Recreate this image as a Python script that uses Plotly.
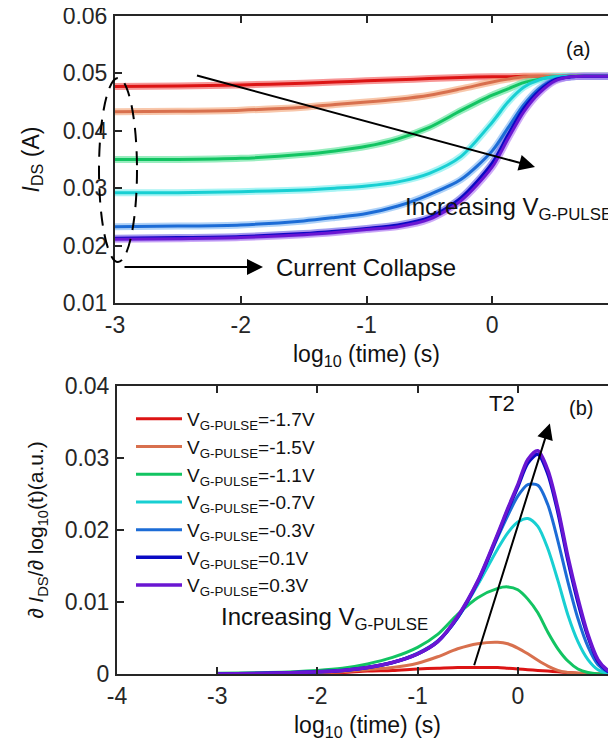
import plotly.graph_objects as go

# ---------------- data ----------------
labels = ["-1.7V", "-1.5V", "-1.1V", "-0.7V", "-0.3V", "0.1V", "0.3V"]
line_colors = ["#dc1414", "#d8704e", "#12c462", "#18cfd2", "#1c6cd6", "#0a0ac4", "#6a16d2"]
halo_colors = ["#f46a6a", "#f6b088", "#6ee6a4", "#86f0f0", "#8ec0f6", "#7a7ae8", "#b886f4"]

# (a) transient drain current, log10(time) grid
t_top = [-3, -2.5, -2, -1.5, -1.25, -1, -0.75, -0.5, -0.25, 0, 0.125, 0.25, 0.375, 0.5, 0.625, 0.75, 1.0]
ids_m17 = [0.0477, 0.0478, 0.0480, 0.0483, 0.0485, 0.0487, 0.0489, 0.0491, 0.0493, 0.0494, 0.0494, 0.0495, 0.0495, 0.0495, 0.0495, 0.0495, 0.0495]
ids_m15 = [0.0433, 0.0434, 0.0436, 0.0441, 0.0446, 0.0450, 0.0455, 0.0462, 0.0473, 0.0485, 0.0490, 0.0494, 0.0495, 0.0495, 0.0495, 0.0495, 0.0495]
ids_m11 = [0.0350, 0.0350, 0.0352, 0.0359, 0.0365, 0.0373, 0.0386, 0.0406, 0.0435, 0.0462, 0.0473, 0.0484, 0.0490, 0.0494, 0.0495, 0.0495, 0.0495]
ids_m07 = [0.0292, 0.0292, 0.0294, 0.0297, 0.0300, 0.0304, 0.0311, 0.0326, 0.0355, 0.0415, 0.0450, 0.0476, 0.0489, 0.0494, 0.0495, 0.0495, 0.0495]
ids_m03 = [0.0233, 0.0234, 0.0236, 0.0243, 0.0249, 0.0256, 0.0269, 0.0289, 0.0315, 0.0365, 0.0405, 0.0445, 0.0474, 0.0490, 0.0494, 0.0495, 0.0495]
ids_p01 = [0.0213, 0.0214, 0.0216, 0.0221, 0.0225, 0.0230, 0.0236, 0.0249, 0.0283, 0.0344, 0.0393, 0.0439, 0.0470, 0.0489, 0.0494, 0.0495, 0.0495]
ids_p03 = [0.0211, 0.0212, 0.0214, 0.0219, 0.0223, 0.0228, 0.0233, 0.0246, 0.0278, 0.0337, 0.0386, 0.0433, 0.0466, 0.0487, 0.0494, 0.0495, 0.0495]

# (b) derivative dIDS/dlog10(t)
t_bot = [-3, -2.5, -2, -1.75, -1.5, -1.25, -1, -0.8, -0.6, -0.4, -0.2, -0.1, 0, 0.1, 0.2, 0.3, 0.4, 0.5, 0.6, 0.7, 0.8, 0.9, 1.0]
d_m17 = [0, 0, 0.0001, 0.0002, 0.0004, 0.0005, 0.0007, 0.0008, 0.0009, 0.0009, 0.0009, 0.0008, 0.0007, 0.0006, 0.0005, 0.0004, 0.0003, 0.0002, 0.0001, 0.0001, 0, 0, 0]
d_m15 = [0, 0.0001, 0.0002, 0.0003, 0.0006, 0.0009, 0.0015, 0.0024, 0.0035, 0.0042, 0.0044, 0.0042, 0.0036, 0.0028, 0.0019, 0.0011, 0.0005, 0.0002, 0.0001, 0, 0, 0, 0]
d_m11 = [0.0001, 0.0002, 0.0005, 0.0008, 0.0014, 0.0023, 0.0037, 0.0055, 0.0083, 0.0106, 0.0119, 0.0121, 0.0117, 0.0104, 0.0085, 0.0058, 0.0035, 0.0018, 0.0007, 0.0002, 0, 0, 0]
d_m07 = [0, 0.0001, 0.0003, 0.0005, 0.0009, 0.0016, 0.0029, 0.0046, 0.0078, 0.0124, 0.0174, 0.0196, 0.0211, 0.0216, 0.0205, 0.0174, 0.0130, 0.0082, 0.0045, 0.0020, 0.0006, 0.0001, 0]
d_m03 = [0, 0.0001, 0.0003, 0.0005, 0.0009, 0.0016, 0.0028, 0.0045, 0.0078, 0.0127, 0.0190, 0.0220, 0.0247, 0.0263, 0.0262, 0.0235, 0.0185, 0.0128, 0.0077, 0.0038, 0.0013, 0.0003, 0]
d_p01 = [0, 0.0001, 0.0003, 0.0005, 0.0009, 0.0016, 0.0028, 0.0045, 0.0079, 0.0128, 0.0193, 0.0228, 0.0260, 0.0293, 0.0305, 0.0278, 0.0225, 0.0158, 0.0100, 0.0052, 0.0018, 0.0004, 0]
d_p03 = [0, 0.0001, 0.0003, 0.0005, 0.0009, 0.0016, 0.0028, 0.0045, 0.0080, 0.0129, 0.0195, 0.0230, 0.0263, 0.0298, 0.0310, 0.0283, 0.0230, 0.0163, 0.0105, 0.0055, 0.0020, 0.0005, 0.0001]

ids_series = [ids_m17, ids_m15, ids_m11, ids_m07, ids_m03, ids_p01, ids_p03]
d_series = [d_m17, d_m15, d_m11, d_m07, d_m03, d_p01, d_p03]

x_ticks_top = [-3, -2, -1, 0, 1]
x_text_top = ["-3", "-2", "-1", "0", "1"]
y_ticks_top = [0.01, 0.02, 0.03, 0.04, 0.05, 0.06]
y_text_top = ["0.01", "0.02", "0.03", "0.04", "0.05", "0.06"]
x_ticks_bot = [-4, -3, -2, -1, 0, 1]
x_text_bot = ["-4", "-3", "-2", "-1", "0", "1"]
y_ticks_bot = [0, 0.01, 0.02, 0.03, 0.04]
y_text_bot = ["0", "0.01", "0.02", "0.03", "0.04"]

# ---------------- figure ----------------
W, H = 616, 745
OFF = 8  # page body margin offset


def xp(px):
    return (px - OFF) / W


def yp(py):
    return 1 - (py - OFF) / H


FONT = "'Liberation Sans', Arial, Helvetica, sans-serif"
fig = go.Figure()

# top panel: wide light band (raw data) + darker fitted line
for ys, lc, hc in zip(ids_series, line_colors, halo_colors):
    fig.add_trace(go.Scatter(x=t_top, y=ys, mode="lines", xaxis="x", yaxis="y",
                             line=dict(color=hc, width=7, shape="spline", smoothing=0.8),
                             opacity=0.7, showlegend=False, hoverinfo="skip"))
for ys, lc, lab in zip(ids_series, line_colors, labels):
    fig.add_trace(go.Scatter(x=t_top, y=ys, mode="lines", xaxis="x", yaxis="y",
                             line=dict(color=lc, width=3, shape="spline", smoothing=0.8),
                             showlegend=False, legendgroup=lab))

# bottom panel
for ys, lc, lab in zip(d_series, line_colors, labels):
    w = 3.5 if lab in ("0.1V", "0.3V") else 3
    fig.add_trace(go.Scatter(x=t_bot, y=ys, mode="lines", xaxis="x2", yaxis="y2",
                             line=dict(color=lc, width=w, shape="spline", smoothing=0.8),
                             name="V<sub>G-PULSE</sub>=" + lab, legendgroup=lab))

axis_common = dict(showline=True, linecolor="#262626", linewidth=2, mirror="ticks",
                   ticks="inside", ticklen=7, tickwidth=1.5, tickcolor="#262626",
                   showgrid=False, zeroline=False, automargin=False,
                   ticklabeloverflow="allow",
                   tickfont=dict(size=23, color="#262626", family=FONT))

fig.update_layout(
    template="none",
    width=W, height=H,
    margin=dict(l=0, r=0, t=0, b=0, autoexpand=False),
    paper_bgcolor="white", plot_bgcolor="white",
    font=dict(family=FONT, color="#111111"),
    xaxis=dict(domain=[xp(115), xp(618)], range=[-3, 1], tickvals=x_ticks_top, ticktext=x_text_top,
               anchor="y", ticklabelstandoff=0,
               title=dict(text="log<sub>10</sub> (time) (s)", font=dict(size=23), standoff=9),
               **axis_common),
    yaxis=dict(domain=[yp(303), yp(16)], range=[0.01, 0.06], tickvals=y_ticks_top,
               ticktext=y_text_top, anchor="x", ticklabelstandoff=1,
               title=dict(text="<i>I</i><sub>DS</sub> (A)", font=dict(size=23), standoff=17),
               **axis_common),
    xaxis2=dict(domain=[xp(117), xp(618)], range=[-4, 1], tickvals=x_ticks_bot, ticktext=x_text_bot,
                anchor="y2", ticklabelstandoff=0,
                title=dict(text="log<sub>10</sub> (time) (s)", font=dict(size=23), standoff=9),
                **axis_common),
    yaxis2=dict(domain=[yp(674), yp(386)], range=[0, 0.04], tickvals=y_ticks_bot,
                ticktext=y_text_bot, anchor="x2", ticklabelstandoff=1,
                title=dict(text="\u2202 <i>I</i><sub>DS</sub>/\u2202 log<sub>10</sub>(t)(a.u.)",
                           font=dict(size=21), standoff=15),
                **axis_common),
    legend=dict(x=xp(131), y=yp(400), xanchor="left", yanchor="top",
                bgcolor="rgba(255,255,255,0)", borderwidth=0, itemwidth=46,
                font=dict(size=19, color="#111111"), tracegroupgap=0),
    showlegend=True,
)

# ---------- annotations (a) ----------
ann = []
ann.append(dict(xref="paper", yref="paper", x=xp(592), y=yp(36), text="(a)",
                showarrow=False, font=dict(size=20)))
ann.append(dict(xref="x", yref="y", axref="x", ayref="y", x=0.34, y=0.0337, ax=-2.36, ay=0.0497,
                text="", showarrow=True, arrowhead=2, arrowsize=1.6, arrowwidth=2,
                arrowcolor="black", standoff=0, startstandoff=0))
ann.append(dict(xref="paper", yref="paper", x=xp(403), y=yp(208), xanchor="left", yanchor="middle",
                text="Increasing V<sub>G-PULSE</sub>", showarrow=False, font=dict(size=24)))
ann.append(dict(xref="paper", yref="paper", axref="pixel", ayref="pixel",
                x=xp(263), y=yp(267), ax=-140, ay=0,
                text="", showarrow=True, arrowhead=2, arrowsize=1.6, arrowwidth=2,
                arrowcolor="black", standoff=0, startstandoff=0))
ann.append(dict(xref="paper", yref="paper", x=xp(274), y=yp(267), xanchor="left",
                yanchor="middle", text="Current Collapse", showarrow=False, font=dict(size=24)))

# ---------- annotations (b) ----------
ann.append(dict(xref="paper", yref="paper", x=xp(595), y=yp(408), text="(b)",
                showarrow=False, font=dict(size=20)))
ann.append(dict(xref="paper", yref="paper", x=xp(517), y=yp(403), text="T2",
                showarrow=False, font=dict(size=22)))
ann.append(dict(xref="x2", yref="y2", axref="x2", ayref="y2", x=0.32, y=0.0348, ax=-0.44, ay=0.0010,
                text="", showarrow=True, arrowhead=2, arrowsize=1.6, arrowwidth=2,
                arrowcolor="black", standoff=0, startstandoff=0))
ann.append(dict(xref="paper", yref="paper", x=xp(219), y=yp(618), xanchor="left",
                yanchor="middle", text="Increasing V<sub>G-PULSE</sub>", showarrow=False,
                font=dict(size=24)))
fig.update_layout(annotations=ann)

# dashed ellipse marking the current collapse region
fig.add_shape(type="circle", xref="paper", yref="paper",
              x0=xp(99), x1=xp(137), y0=yp(262), y1=yp(78),
              line=dict(color="black", width=2, dash="14px,9px"))

fig.write_html("out.html")
